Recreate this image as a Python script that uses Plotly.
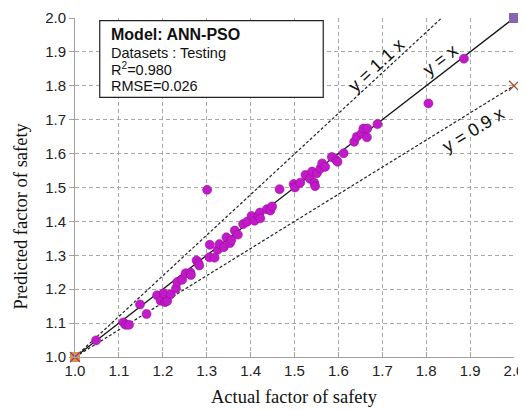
import plotly.graph_objects as go

actual = [1.048, 1.110, 1.116, 1.123, 1.148, 1.163, 1.187, 1.195, 1.202, 1.205,
          1.210, 1.218, 1.230, 1.233, 1.244, 1.252, 1.263, 1.264, 1.277, 1.281,
          1.283, 1.301, 1.307, 1.306, 1.318, 1.325, 1.329, 1.339, 1.345, 1.353,
          1.356, 1.364, 1.371, 1.383, 1.392, 1.402, 1.409, 1.418, 1.421, 1.422,
          1.437, 1.445, 1.449, 1.466, 1.498, 1.501, 1.513, 1.525, 1.535, 1.540,
          1.545, 1.547, 1.551, 1.559, 1.563, 1.570, 1.585, 1.595, 1.598, 1.612,
          1.636, 1.642, 1.653, 1.657, 1.665, 1.666, 1.689, 1.805, 1.886]
predicted = [1.049, 1.102, 1.095, 1.095, 1.155, 1.127, 1.182, 1.166, 1.188, 1.162,
             1.165, 1.185, 1.202, 1.221, 1.228, 1.247, 1.249, 1.242, 1.285, 1.277,
             1.270, 1.493, 1.331, 1.294, 1.293, 1.316, 1.333, 1.324, 1.353, 1.336,
             1.345, 1.373, 1.361, 1.392, 1.399, 1.416, 1.402, 1.416, 1.426, 1.409,
             1.436, 1.432, 1.444, 1.495, 1.510, 1.500, 1.514, 1.537, 1.526, 1.547,
             1.514, 1.504, 1.542, 1.556, 1.571, 1.561, 1.590, 1.581, 1.576, 1.601,
             1.635, 1.650, 1.659, 1.674, 1.648, 1.674, 1.687, 1.748, 1.880]

# reference lines (as drawn in the figure)
line_x_eq = [1.0, 2.0]
line_y_eq = [1.0, 2.0]
line_x_upper = [1.0, 1.835]
line_y_upper = [1.0, 2.0]
line_x_lower = [1.0, 2.0]
line_y_lower = [1.0, 1.8]

tick_vals = [1.0, 1.1, 1.2, 1.3, 1.4, 1.5, 1.6, 1.7, 1.8, 1.9, 2.0]
tick_text = ["1.0", "1.1", "1.2", "1.3", "1.4", "1.5", "1.6", "1.7", "1.8", "1.9", "2.0"]

# page body has an 8px default margin: work in figure coordinates shifted by 8px
OFF = 8
W, H = 518, 402
L, R, T, B = 74.5 - OFF, 514.5 - OFF, 18 - OFF, 357 - OFF
PW, PH = R - L, B - T


def px(xp):
    return (xp - OFF - L) / PW


def py(yp):
    return (B - (yp - OFF)) / PH


fig = go.Figure()
fig.add_trace(go.Scatter(x=line_x_upper, y=line_y_upper, mode="lines",
                         line=dict(color="#222222", width=1.2, dash="3px,2px"), hoverinfo="skip"))
fig.add_trace(go.Scatter(x=line_x_lower, y=line_y_lower, mode="lines",
                         line=dict(color="#222222", width=1.2, dash="3px,2px"), hoverinfo="skip"))
fig.add_trace(go.Scatter(x=line_x_eq, y=line_y_eq, mode="lines",
                         line=dict(color="#111111", width=1.3), hoverinfo="skip"))
fig.add_trace(go.Scatter(x=actual, y=predicted, mode="markers",
                         marker=dict(color="#c21ac8", size=9,
                                     line=dict(color="#9a0aa0", width=0.6))))
fig.add_trace(go.Scatter(x=[2.0], y=[2.0], mode="markers",
                         marker=dict(symbol="square", color="#8a64b0", size=10), cliponaxis=False))
fig.add_trace(go.Scatter(x=[2.0], y=[1.8], mode="markers",
                         marker=dict(symbol="x-thin", size=10, line=dict(color="#a0522d", width=1.3)),
                         cliponaxis=False))
fig.add_trace(go.Scatter(x=[1.0], y=[1.0], mode="markers",
                         marker=dict(symbol="square", color="#f08c3c", size=10), cliponaxis=False))
fig.add_trace(go.Scatter(x=[1.0], y=[1.0], mode="markers",
                         marker=dict(symbol="x-thin", size=10, line=dict(color="#7a4a8a", width=1.3)),
                         cliponaxis=False))

grid = dict(showgrid=True, gridcolor="#a8a8a8", griddash="4px,3px", gridwidth=1)
fig.update_xaxes(range=[1.0, 2.0], tickvals=tick_vals, ticktext=tick_text,
                 showline=True, linecolor="#a0a0a0", linewidth=1, zeroline=False,
                 ticks="inside", ticklen=5, tickcolor="#a0a0a0", automargin=False,
                 tickfont=dict(family="Liberation Sans, Arial", size=15, color="#222222"), **grid)
fig.update_yaxes(range=[1.0, 2.0], tickvals=tick_vals, ticktext=tick_text,
                 showline=True, linecolor="#a0a0a0", linewidth=1, zeroline=False,
                 ticks="outside", ticklen=5, tickcolor="#a0a0a0", automargin=False,
                 tickfont=dict(family="Liberation Sans, Arial", size=15, color="#222222"), **grid)

ann_font = dict(family="Liberation Sans, Arial", size=18, color="#111111")
fig.add_annotation(x=1.687, y=1.861, text="y = 1.1 x", textangle=-42.7, showarrow=False, font=ann_font)
fig.add_annotation(x=1.832, y=1.876, text="y = x", textangle=-37.6, showarrow=False, font=ann_font)
fig.add_annotation(x=1.907, y=1.670, text="y = 0.9 x", textangle=-31.7, showarrow=False, font=ann_font)

# info box
fig.add_shape(type="rect", xref="paper", yref="paper",
              x0=px(99.3), x1=px(323.3), y0=py(97.3), y1=py(20.7),
              line=dict(color="#222222", width=1.2), fillcolor="white", layer="above")
box_lines = ["<b>Model: ANN-PSO</b>", "Datasets : Testing", "R<sup>2</sup>=0.980", "RMSE=0.026"]
box_y = [34, 52.5, 69, 86]
box_size = [16, 14.5, 14.5, 14.5]
for t, yy, s in zip(box_lines, box_y, box_size):
    fig.add_annotation(xref="paper", yref="paper", x=px(109), y=py(yy),
                       xanchor="left", yanchor="middle", text=t, showarrow=False,
                       font=dict(family="Liberation Sans, Arial", size=s, color="#111111"))

title_font = dict(family="Liberation Serif, Times New Roman", size=18.5, color="#111111")
fig.add_annotation(xref="paper", yref="paper", x=px(295), y=py(397),
                   text="Actual factor of safety", showarrow=False, font=title_font,
                   xanchor="center", yanchor="middle")
fig.add_annotation(xref="paper", yref="paper", x=px(20), y=py(216),
                   text="Predicted factor of safety", showarrow=False, font=title_font,
                   textangle=-90, xanchor="center", yanchor="middle")

fig.update_layout(width=W, height=H, showlegend=False,
                  margin=dict(l=L, r=W - R, t=T, b=H - B, pad=0),
                  plot_bgcolor="white", paper_bgcolor="white")
fig.write_html("out.html")
